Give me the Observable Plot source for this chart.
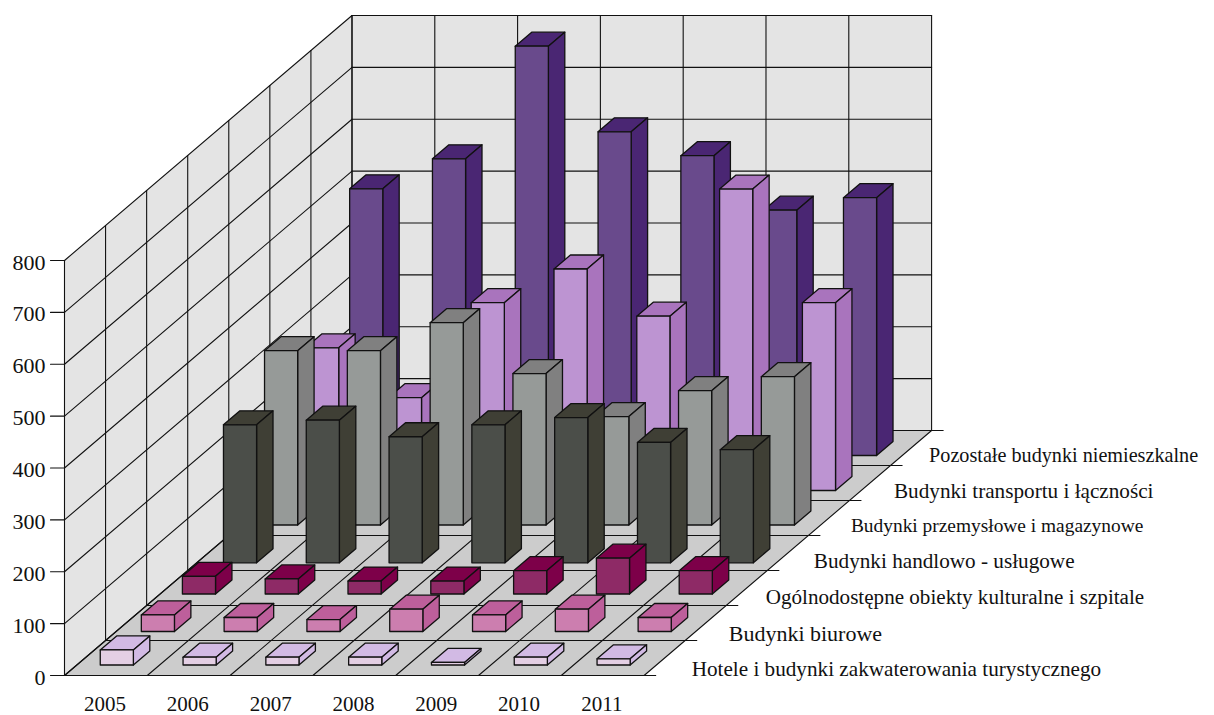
<!DOCTYPE html>
<html>
<head>
<meta charset="utf-8">
<style>html,body{margin:0;padding:0;background:#fff}svg{display:block}</style>
<script src="https://cdn.jsdelivr.net/npm/d3@7"></script>
<script src="https://cdn.jsdelivr.net/npm/@observablehq/plot@0.6"></script>
</head>
<body>
<div id="chart"></div>
<script>
const years = ["2005","2006","2007","2008","2009","2010","2011"];
const seriesNames = [
  "Hotele i budynki zakwaterowania turystycznego",
  "Budynki biurowe",
  "Ogólnodostępne obiekty kulturalne i szpitale",
  "Budynki handlowo - usługowe",
  "Budynki przemysłowe i magazynowe",
  "Budynki transportu i łączności",
  "Pozostałe budynki niemieszkalne"
];
const hotele      = [29, 15, 15, 15, 5, 15, 12];
const biurowe     = [32, 27, 23, 43, 32, 43, 27];
const kulturalne  = [34, 29, 25, 25, 45, 69, 45];
const handlowe    = [266, 275, 243, 266, 280, 232, 218];
const przemyslowe = [336, 336, 390, 292, 209, 259, 286];
const transport   = [275, 179, 362, 427, 336, 581, 362];
const pozostale   = [514, 572, 789, 624, 578, 473, 497];
const seriesValues = [hotele, biurowe, kulturalne, handlowe, przemyslowe, transport, pozostale];
const frontColors = ["#E4CFE4","#CC7EAF","#8E2A66","#4B4E49","#969A98","#BD94D2","#694A8C"];
const sideColors  = ["#D2BAE4","#BD5F9B","#7D0049","#3F3F35","#808080","#A974BD","#4A2673"];
const valueTicks = [0,100,200,300,400,500,600,700,800];

// oblique projection: category position u, value v, depth d -> page position
const X0 = 64, Y0 = 675, CELL = 82.8, DX = 41.07, DY = 35, VS = 415 / 800;
const px = (u, d) => X0 + CELL * u + DX * d;
const py = (v, d) => Y0 - DY * d - VS * v;
const nC = years.length, nS = seriesNames.length, vMax = 800;

// small per-row drawing offsets of the original's hand-placed rows and labels
const rowDy = [0, 1.5, -1, 2.8, 0, 0.5, 0.5];
const labelDx = [5, 1, -3, 4, 0, 2, -4];
const labelDy = [2, 2, 0, -1, -1, -1, -1];
const labelSize = [21.2, 22, 21.1, 21.2, 19.4, 21.2, 20.2];

function poly(list, id, color, pts, dy = 0) {
  [...pts, pts[0]].forEach(([u, v, d]) => list.push({id, color, x: px(u, d), y: py(v, d) + dy}));
}
function seg(list, id, a, b) {
  [a, b].forEach(([u, v, d]) => list.push({id, x: px(u, d), y: py(v, d)}));
}

const walls = [];
poly(walls, "back", "#E4E4E4", [[0,0,nS],[nC,0,nS],[nC,vMax,nS],[0,vMax,nS]]);
poly(walls, "left", "#E4E4E4", [[0,0,0],[0,0,nS],[0,vMax,nS],[0,vMax,0]]);
poly(walls, "floor", "#CCCCCC", [[0,0,0],[nC,0,0],[nC,0,nS],[0,0,nS]]);

const grid = [];
valueTicks.forEach(v => {
  seg(grid, "bh" + v, [0,v,nS], [nC,v,nS]);
  seg(grid, "ld" + v, [-14 / CELL,v,0], [0,v,0]);
  seg(grid, "ld2" + v, [0,v,0], [0,v,nS]);
});
years.concat("end").forEach((_, i) => {
  seg(grid, "bv" + i, [i,0,nS], [i,vMax,nS]);
  seg(grid, "fd" + i, [i,0,0], [i,0,nS]);
});
for (let s = 0; s <= nS; s++) {
  seg(grid, "lv" + s, [0,0,s], [0,vMax,s]);
  seg(grid, "fh" + s, [0,0,s], [nC + 0.14,0,s]);
}

const bars = [];
const BU0 = 0.283, BU1 = 0.683, BD0 = 0.3, BD1 = 0.7;
for (let s = nS - 1; s >= 0; s--) {
  years.forEach((_, i) => {
    const shift = (s === nS - 1 && i < nC - 1) ? 0.036 : 0;
    const v = seriesValues[s][i];
    const u0 = i + BU0 + shift, u1 = i + BU1 + shift, d0 = s + BD0, d1 = s + BD1;
    const id = s + "-" + i + "-";
    poly(bars, id + "top", sideColors[s], [[u0,v,d0],[u1,v,d0],[u1,v,d1],[u0,v,d1]], rowDy[s]);
    poly(bars, id + "side", sideColors[s], [[u1,0,d0],[u1,0,d1],[u1,v,d1],[u1,v,d0]], rowDy[s]);
    poly(bars, id + "front", frontColors[s], [[u0,0,d0],[u1,0,d0],[u1,v,d0],[u0,v,d0]], rowDy[s]);
  });
}

const font = "'Liberation Serif','Times New Roman',serif";
const plot = Plot.plot({
  width: 1214, height: 715, margin: 0,
  x: {domain: [0, 1214], range: [0, 1214], axis: null},
  y: {domain: [0, 715], range: [0, 715], axis: null},
  color: {type: "identity"},
  style: {fontFamily: font, background: "#fff"},
  marks: [
    Plot.line(walls, {x: "x", y: "y", z: "id", fill: "color", stroke: "none"}),
    Plot.line(grid, {x: "x", y: "y", z: "id", stroke: "#111", strokeWidth: 1.1}),
    Plot.line(bars, {x: "x", y: "y", z: "id", fill: "color", stroke: "#111", strokeWidth: 1.3, strokeLinejoin: "round"}),
    Plot.text(valueTicks, {x: px(0,0) - 19, y: v => py(v, 0) + 2, text: v => String(v), textAnchor: "end", fontSize: 22, fill: "#111"}),
    Plot.text(years, {x: (_, i) => px(i + 0.49, 0), y: 703.5, text: d => d, fontSize: 21, fill: "#111"}),
    Plot.text(seriesNames, {x: (_, s) => px(nC, s + 0.5) + 22 + labelDx[s], y: (_, s) => py(0, s + 0.5) + 9 + labelDy[s], text: d => d, textAnchor: "start", fontSize: (_, s) => labelSize[s], fill: "#111"})
  ]
});
document.getElementById("chart").appendChild(plot);
</script>
</body>
</html>
